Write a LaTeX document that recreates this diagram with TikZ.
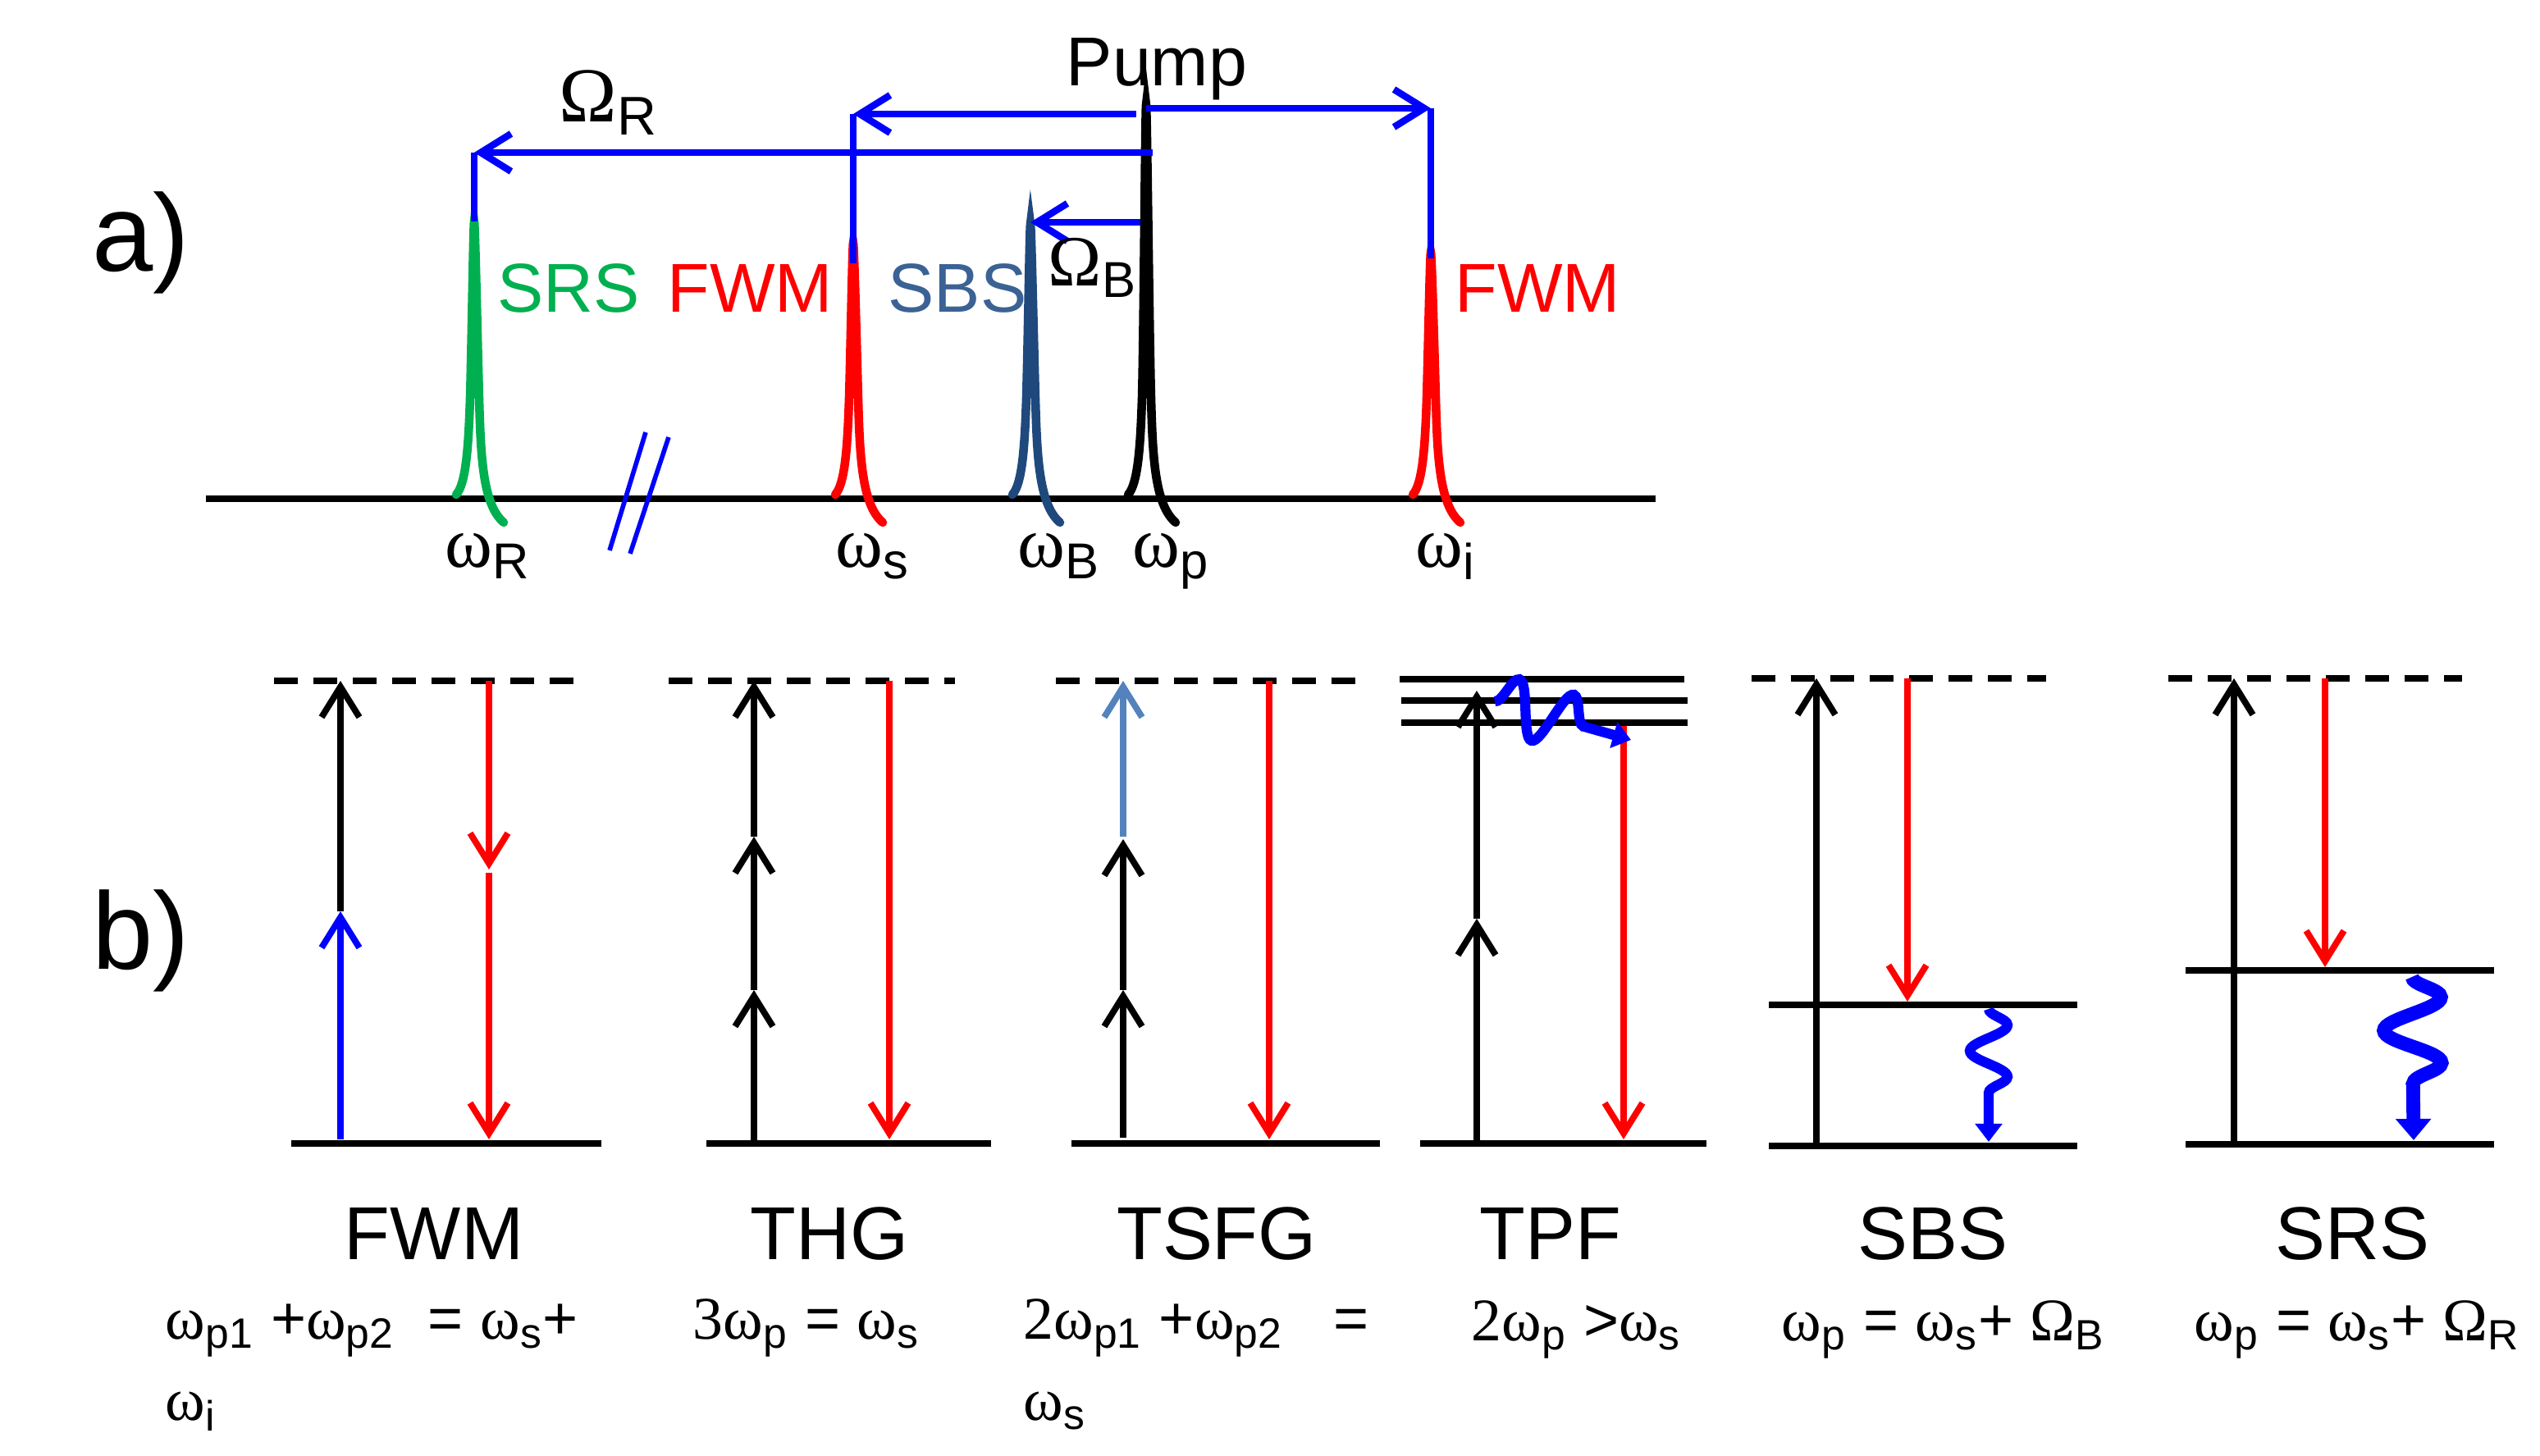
\documentclass[tikz,border=0pt]{standalone}
\usepackage{fontspec}
\setmainfont{Liberation Sans}
\newfontfamily\grk{Liberation Serif}
\usepackage{xcolor}
\usepackage{tikz}
\usetikzlibrary{arrows.meta,decorations.pathmorphing}

\definecolor{srsgreen}{RGB}{0,176,80}
\definecolor{sbsblue}{RGB}{59,98,148}
\definecolor{sbspeak}{RGB}{31,73,125}
\definecolor{tsfgblue}{RGB}{84,130,189}

% frequency symbols with subscripts
\newcommand{\om}[1]{{\grk ω}\textsubscript{#1}}
\newcommand{\Om}[1]{{\grk Ω}\textsubscript{#1}}

\tikzset{
  peak/.style={line width=3pt, line cap=round},
  shiftarr/.style={blue, line width=2.4pt},
  level/.style={line width=2.4pt},
  virtual/.style={line width=2.3pt, dash pattern=on 0.29cm off 0.19cm},
  trans/.style={line width=2.2pt, ->},
  phonon/.style={blue, line width=3.5pt, decorate, -{Triangle[length=0.22cm,width=0.32cm]}},
  lbl/.style={font=\fontsize{24}{29}\selectfont, anchor=base west, inner sep=0pt},
  freq/.style={font=\fontsize{25}{30}\selectfont, anchor=base west, inner sep=0pt},
  procname/.style={font=\fontsize{26}{31}\selectfont, anchor=base, inner sep=0pt},
  eqn/.style={font=\fontsize{21}{28}\selectfont, anchor=base west, inner sep=0pt},
  part/.style={font=\fontsize{38}{44}\selectfont, inner sep=0pt}
}

\begin{document}
\begin{tikzpicture}[>={Straight Barb[length=0.37cm,width=0.46cm]}, x=1cm, y=1cm]
  \useasboundingbox (0,0) rectangle (30.96,17.75);

  % ---------- a) spectrum ----------
  \node[part] (parta) at (1.72,14.79) {a)};

  % frequency axis
  \draw[line width=2.2pt] (2.51,11.67) -- (20.18,11.67);

  % spectral lines
  \foreach \px/\ptop/\pcol in {5.78/15.05/srsgreen, 10.40/14.79/red, 12.56/15.02/sbspeak, 13.97/16.47/black, 17.44/14.67/red}
    \draw[peak, color=\pcol] ({\px-0.22},11.72) .. controls ({\px-0.10},11.85) and ({\px-0.07},12.3) .. ({\px-0.05},12.9)
      .. controls ({\px-0.03},13.6) and ({\px-0.01},\ptop) .. (\px,\ptop)
      .. controls ({\px+0.01},\ptop) and ({\px+0.04},13.6) .. ({\px+0.06},12.9)
      .. controls ({\px+0.08},12.2) and ({\px+0.10},11.6) .. ({\px+0.36},11.38);

  % axis break
  \draw[blue, line width=1.6pt] (7.87,12.48) -- (7.43,11.04);
  \draw[blue, line width=1.6pt] (8.15,12.42) -- (7.68,11.00);

  % frequency shifts from the pump
  \coordinate (pumpA) at (13.97,16.43);
  \coordinate (pumpB) at (13.85,16.36);
  \coordinate (pumpC) at (14.05,15.89);
  \coordinate (pumpD) at (13.90,15.04);
  \coordinate (idlerTurn) at (17.44,16.43);
  \coordinate (idlerTop) at (17.44,14.60);
  \coordinate (sigTurn) at (10.40,16.36);
  \coordinate (sigTop) at (10.40,14.54);
  \coordinate (ramTurn) at (5.78,15.89);
  \coordinate (ramTop) at (5.78,15.05);
  \coordinate (briTop) at (12.56,15.04);

  \draw[shiftarr, ->] (pumpA) -- (idlerTurn);
  \draw[shiftarr] (idlerTurn) -- (idlerTop);
  \draw[shiftarr, ->] (pumpB) -- (sigTurn);
  \draw[shiftarr] (sigTurn) -- (sigTop);
  \draw[shiftarr, ->] (pumpC) -- (ramTurn);
  \draw[shiftarr] (ramTurn) -- (ramTop);
  \draw[shiftarr, ->] (pumpD) -- (briTop);

  % labels
  \node[lbl, anchor=base] (pump) at (14.10,16.70) {Pump};
  \node[lbl, font=\fontsize{27}{32}\selectfont] (omr) at (6.81,16.26) {\Om{R}};
  \node[lbl, font=\fontsize{25}{30}\selectfont] (omb) at (12.77,14.26) {\Om{B}};
  \node[lbl, srsgreen] (srs) at (6.06,13.94) {SRS};
  \node[lbl, red] (fwms) at (8.13,13.94) {FWM};
  \node[lbl, sbsblue] (sbs) at (10.82,13.94) {SBS};
  \node[lbl, red] (fwmi) at (17.73,13.94) {FWM};

  \node[freq] (wr) at (5.42,10.83) {\om{R}};
  \node[freq] (ws) at (10.18,10.83) {\om{s}};
  \node[freq] (wb) at (12.40,10.83) {\om{B}};
  \node[freq] (wp) at (13.80,10.83) {\om{p}};
  \node[freq] (wi) at (17.25,10.83) {\om{i}};

  % ---------- b) level schemes ----------
  \node[part] (partb) at (1.72,6.28) {b)};

  % FWM
  \draw[virtual] (3.34,9.45) -- (7.02,9.45);
  \draw[level] (3.55,3.81) -- (7.33,3.81);
  \draw[trans, blue] (4.15,3.86) -- (4.15,6.64);
  \draw[trans] (4.15,6.64) -- (4.15,9.45);
  \draw[trans, red] (5.96,9.45) -- (5.96,7.15);
  \draw[trans, red] (5.96,7.11) -- (5.96,3.86);

  % THG
  \draw[virtual] (8.15,9.45) -- (11.64,9.45);
  \draw[level] (8.61,3.81) -- (12.08,3.81);
  \draw[trans] (9.19,3.81) -- (9.19,5.68);
  \draw[trans] (9.19,5.68) -- (9.19,7.55);
  \draw[trans] (9.19,7.55) -- (9.19,9.45);
  \draw[trans, red] (10.84,9.45) -- (10.84,3.86);

  % TSFG
  \draw[virtual] (12.87,9.45) -- (16.55,9.45);
  \draw[level] (13.06,3.81) -- (16.82,3.81);
  \draw[trans] (13.69,3.88) -- (13.69,5.68);
  \draw[trans] (13.69,5.68) -- (13.69,7.52);
  \draw[trans, tsfgblue] (13.69,7.55) -- (13.69,9.45);
  \draw[trans, red] (15.47,9.45) -- (15.47,3.86);

  % TPF
  \draw[level] (17.06,9.47) -- (20.53,9.47);
  \draw[level] (17.08,9.21) -- (20.57,9.21);
  \draw[level] (17.08,8.94) -- (20.57,8.94);
  \draw[level] (17.31,3.81) -- (20.80,3.81);
  \draw[trans] (18.00,3.81) -- (18.00,6.55);
  \draw[trans] (18.00,6.55) -- (18.00,9.33);
  \draw[trans, red] (19.79,8.90) -- (19.79,3.86);
  \draw[phonon, decoration={snake, amplitude=0.34cm, segment length=0.69cm, post length=0.34cm}] (18.22,9.20) -- (19.88,8.73);

  % SBS
  \draw[virtual] (21.35,9.48) -- (24.94,9.48);
  \draw[level] (21.56,5.50) -- (25.32,5.50);
  \draw[level] (21.56,3.78) -- (25.32,3.78);
  \draw[trans] (22.14,3.78) -- (22.14,9.48);
  \draw[trans, red] (23.25,9.48) -- (23.25,5.54);
  \draw[phonon, decoration={snake, amplitude=0.23cm, segment length=0.63cm, post length=0.34cm}] (24.24,5.45) -- (24.24,3.83);

  % SRS
  \draw[virtual] (26.43,9.48) -- (30.01,9.48);
  \draw[level] (26.64,5.92) -- (30.40,5.92);
  \draw[level] (26.64,3.80) -- (30.40,3.80);
  \draw[trans] (27.23,3.80) -- (27.23,9.48);
  \draw[trans, red] (28.34,9.48) -- (28.34,5.96);
  \draw[phonon, line width=4.8pt, -{Triangle[length=0.26cm,width=0.42cm]}, decoration={snake, amplitude=0.35cm, segment length=0.8cm, post length=0.41cm}] (29.40,5.84) -- (29.42,3.85);

  % process names
  \node[procname] (nfwm) at (5.29,2.39) {FWM};
  \node[procname] (nthg) at (10.11,2.39) {THG};
  \node[procname] (ntsfg) at (14.83,2.39) {TSFG};
  \node[procname] (ntpf) at (18.90,2.39) {TPF};
  \node[procname] (nsbs) at (23.56,2.39) {SBS};
  \node[procname] (nsrs) at (28.67,2.39) {SRS};

  % energy conservation
  \node[eqn] (efwm) at (2.01,1.42) {\om{p1} +\om{p2} \ = \om{s}+};
  \node[eqn] (efwm2) at (2.01,0.43) {\om{i}};
  \node[eqn] (ethg) at (8.44,1.42) {{\grk 3}\om{p} = \om{s}};
  \node[eqn] (etsfg) at (12.47,1.42) {{\grk 2}\om{p1} +\om{p2} \ \ =};
  \node[eqn] (etsfg2) at (12.47,0.43) {\om{s}};
  \node[eqn] (etpf) at (17.93,1.40) {{\grk 2}\om{p} >\om{s}};
  \node[eqn] (esbs) at (21.71,1.40) {\om{p} = \om{s}+ \Om{B}};
  \node[eqn] (esrs) at (26.74,1.40) {\om{p} = \om{s}+ \Om{R}};
\end{tikzpicture}
\end{document}
